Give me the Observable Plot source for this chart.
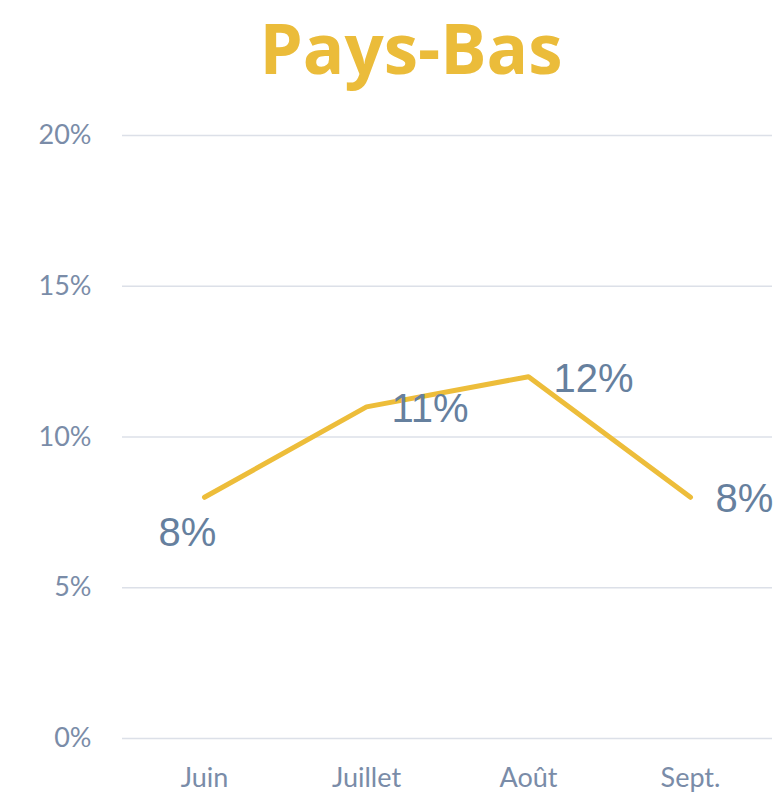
<!DOCTYPE html>
<html>
<head>
<meta charset="utf-8">
<script src="https://cdn.jsdelivr.net/npm/d3@7"></script>
<script src="https://cdn.jsdelivr.net/npm/@observablehq/plot@0.6"></script>
<style>
  html, body { margin: 0; padding: 0; background: #fff; }
  #title { height: 100px; box-sizing: border-box; padding: 0 0 0 42px; text-align: center;
           font-family: "Open Sans", Lato, sans-serif; font-weight: 700; font-size: 69px;
           color: #EBBC3A; line-height: 94px; }
  #chart svg { display: block; }
</style>
</head>
<body>
<div id="title">Pays-Bas</div>
<div id="chart"></div>
<script>
const months = ["Juin", "Juillet", "Août", "Sept."];
const values = [0.08, 0.11, 0.12, 0.08];
const yTicks = [0, 0.05, 0.10, 0.15, 0.20];
const labelPlacement = ["below", "right", "right", "right"];

const data = months.map((m, i) => ({month: m, value: values[i], place: labelPlacement[i]}));
const fmt = d3.format(".0%");

const plot = Plot.plot({
  width: 780,
  height: 694,
  marginLeft: 122,
  marginRight: 8,
  marginTop: 35,
  marginBottom: 56,
  style: {background: "#fff"},
  x: {type: "point", domain: months, padding: 0.5, label: null},
  y: {domain: [0, 0.2], label: null},
  marks: [
    Plot.ruleY(yTicks, {stroke: "#DCE0E8", strokeWidth: 1.5}),
    Plot.axisY(yTicks, {tickSize: 0, tickPadding: 31, tickFormat: fmt, fontSize: 27,
      fill: "#7A8CA8", fontFamily: "Lato, sans-serif", label: null}),
    Plot.axisX({tickSize: 0, tickPadding: 29, fontSize: 27, fill: "#7A8CA8",
      fontFamily: "Lato, sans-serif", label: null}),
    Plot.line(data, {x: "month", y: "value", stroke: "#EDBD3A", strokeWidth: 5,
      strokeLinecap: "round", strokeLinejoin: "round"}),
    Plot.text(data.filter(d => d.place === "right"), {x: "month", y: "value", text: d => fmt(d.value),
      textAnchor: "start", dx: 25, dy: 2, fontSize: 40, fill: "#66809E",
      fontFamily: "'Liberation Sans', Arial, sans-serif"}),
    Plot.text(data.filter(d => d.place === "below"), {x: "month", y: "value", text: d => fmt(d.value),
      textAnchor: "middle", dx: -17, dy: 36, fontSize: 40, fill: "#66809E",
      fontFamily: "'Liberation Sans', Arial, sans-serif"})
  ]
});
document.getElementById("chart").appendChild(plot);
</script>
</body>
</html>
